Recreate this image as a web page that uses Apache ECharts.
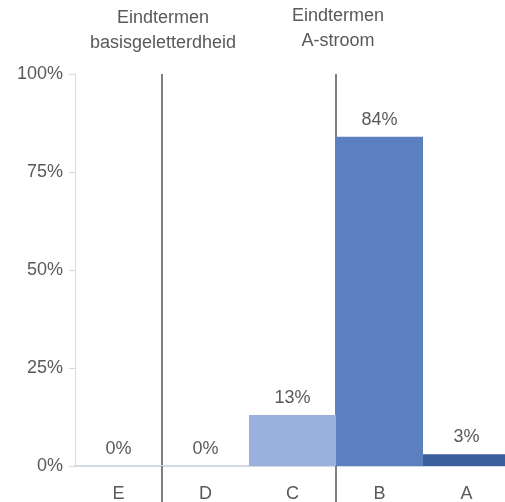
<!DOCTYPE html>
<html>
<head>
<meta charset="utf-8">
<script src="https://cdn.jsdelivr.net/npm/echarts@6/dist/echarts.min.js"></script>
<style>
  html, body { margin: 0; padding: 0; background: #fff; }
  #chart { width: 505px; height: 502px; }
</style>
</head>
<body>
<div id="chart"></div>
<script>
const categories = ['E', 'D', 'C', 'B', 'A']
const values = [0, 0, 13, 84, 3]
const barColors = ['#dbe3f1', '#dbe3f1', '#9ab0dd', '#5b7fbf', '#3c5e9c']
const yTicks = [0, 25, 50, 75, 100]
const groupTitles = ['Eindtermen\nbasisgeletterdheid', 'Eindtermen\nA-stroom']
const separatorAfter = [1, 3] // boundary before these category indices

const textColor = '#595959'
const font = 'Liberation Sans, Arial, sans-serif'

const chart = echarts.init(document.getElementById('chart'))

chart.setOption({
  animation: false,
  grid: { left: 75, width: 435, top: 74, bottom: 36, outerBoundsMode: 'none' },
  xAxis: {
    type: 'category',
    data: categories,
    boundaryGap: true,
    axisLine: { lineStyle: { color: '#d3dae6', width: 2 } },
    axisTick: {
      show: true,
      length: 38,
      interval: (i) => separatorAfter.includes(i),
      lineStyle: { color: '#7f7f7f', width: 2 }
    },
    axisLabel: { color: textColor, fontSize: 18, fontFamily: font, margin: 19 },
    splitLine: {
      show: true,
      interval: (i) => separatorAfter.includes(i),
      lineStyle: { color: '#7f7f7f', width: 2 }
    }
  },
  yAxis: {
    type: 'value',
    min: 0,
    max: 100,
    interval: 25,
    axisLine: { show: true, lineStyle: { color: '#d9d9d9' } },
    axisTick: { show: true, length: 6, lineStyle: { color: '#d9d9d9' } },
    axisLabel: {
      color: textColor,
      fontSize: 18,
      fontFamily: font,
      margin: 12,
      formatter: (v) => yTicks.includes(v) ? v + '%' : ''
    },
    splitLine: { show: false }
  },
  series: [{
    type: 'bar',
    data: values.map((v, i) => ({ value: v, itemStyle: { color: barColors[i] } })),
    barCategoryGap: 0,
    label: {
      show: true,
      position: 'top',
      distance: 8,
      color: textColor,
      fontSize: 18,
      fontFamily: font,
      formatter: '{c}%'
    }
  }],
  graphic: [
    {
      type: 'text', x: 163, y: 6,
      style: { text: groupTitles[0], fill: textColor, font: '18px ' + font, align: 'center', lineHeight: 25 }
    },
    {
      type: 'text', x: 338, y: 4,
      style: { text: groupTitles[1], fill: textColor, font: '18px ' + font, align: 'center', lineHeight: 25 }
    }
  ]
})
</script>
</body>
</html>
